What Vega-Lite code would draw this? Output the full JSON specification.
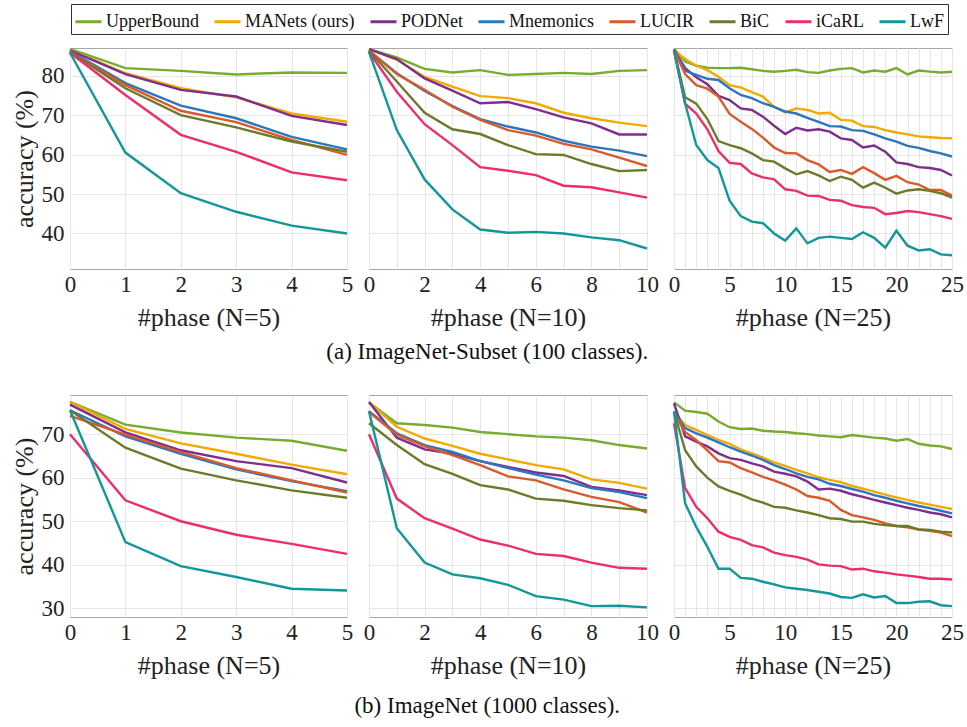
{
  "$schema": "https://vega.github.io/schema/vega-lite/v6.json",
  "padding": {"left": 10, "top": 3, "right": 2, "bottom": 4},
  "background": "white",
  "datasets": {
    "acc": [
      {"p":"a5","m":"UpperBound","x":0,"y":86.8},{"p":"a5","m":"UpperBound","x":1,"y":81.9},{"p":"a5","m":"UpperBound","x":2,"y":81.2},{"p":"a5","m":"UpperBound","x":3,"y":80.3},{"p":"a5","m":"UpperBound","x":4,"y":80.8},{"p":"a5","m":"UpperBound","x":5,"y":80.7},
      {"p":"a5","m":"MANets (ours)","x":0,"y":86.6},{"p":"a5","m":"MANets (ours)","x":1,"y":80.6},{"p":"a5","m":"MANets (ours)","x":2,"y":76.8},{"p":"a5","m":"MANets (ours)","x":3,"y":74.5},{"p":"a5","m":"MANets (ours)","x":4,"y":70.4},{"p":"a5","m":"MANets (ours)","x":5,"y":68.3},
      {"p":"a5","m":"PODNet","x":0,"y":86.4},{"p":"a5","m":"PODNet","x":1,"y":80.4},{"p":"a5","m":"PODNet","x":2,"y":76.4},{"p":"a5","m":"PODNet","x":3,"y":74.7},{"p":"a5","m":"PODNet","x":4,"y":69.8},{"p":"a5","m":"PODNet","x":5,"y":67.5},
      {"p":"a5","m":"Mnemonics","x":0,"y":86.2},{"p":"a5","m":"Mnemonics","x":1,"y":78.1},{"p":"a5","m":"Mnemonics","x":2,"y":72.4},{"p":"a5","m":"Mnemonics","x":3,"y":69.2},{"p":"a5","m":"Mnemonics","x":4,"y":64.5},{"p":"a5","m":"Mnemonics","x":5,"y":61.3},
      {"p":"a5","m":"LUCIR","x":0,"y":86.0},{"p":"a5","m":"LUCIR","x":1,"y":77.6},{"p":"a5","m":"LUCIR","x":2,"y":71.1},{"p":"a5","m":"LUCIR","x":3,"y":68.2},{"p":"a5","m":"LUCIR","x":4,"y":63.7},{"p":"a5","m":"LUCIR","x":5,"y":59.9},
      {"p":"a5","m":"BiC","x":0,"y":86.0},{"p":"a5","m":"BiC","x":1,"y":76.8},{"p":"a5","m":"BiC","x":2,"y":70.0},{"p":"a5","m":"BiC","x":3,"y":66.9},{"p":"a5","m":"BiC","x":4,"y":63.3},{"p":"a5","m":"BiC","x":5,"y":60.7},
      {"p":"a5","m":"iCaRL","x":0,"y":85.8},{"p":"a5","m":"iCaRL","x":1,"y":75.1},{"p":"a5","m":"iCaRL","x":2,"y":65.0},{"p":"a5","m":"iCaRL","x":3,"y":60.7},{"p":"a5","m":"iCaRL","x":4,"y":55.5},{"p":"a5","m":"iCaRL","x":5,"y":53.5},
      {"p":"a5","m":"LwF","x":0,"y":85.8},{"p":"a5","m":"LwF","x":1,"y":60.5},{"p":"a5","m":"LwF","x":2,"y":50.2},{"p":"a5","m":"LwF","x":3,"y":45.5},{"p":"a5","m":"LwF","x":4,"y":42.0},{"p":"a5","m":"LwF","x":5,"y":40.0},

      {"p":"a10","m":"UpperBound","x":0,"y":86.7},{"p":"a10","m":"UpperBound","x":1,"y":84.6},{"p":"a10","m":"UpperBound","x":2,"y":81.7},{"p":"a10","m":"UpperBound","x":3,"y":80.8},{"p":"a10","m":"UpperBound","x":4,"y":81.4},{"p":"a10","m":"UpperBound","x":5,"y":80.2},{"p":"a10","m":"UpperBound","x":6,"y":80.4},{"p":"a10","m":"UpperBound","x":7,"y":80.7},{"p":"a10","m":"UpperBound","x":8,"y":80.4},{"p":"a10","m":"UpperBound","x":9,"y":81.2},{"p":"a10","m":"UpperBound","x":10,"y":81.4},
      {"p":"a10","m":"MANets (ours)","x":0,"y":86.7},{"p":"a10","m":"MANets (ours)","x":1,"y":84.0},{"p":"a10","m":"MANets (ours)","x":2,"y":79.7},{"p":"a10","m":"MANets (ours)","x":3,"y":77.2},{"p":"a10","m":"MANets (ours)","x":4,"y":74.8},{"p":"a10","m":"MANets (ours)","x":5,"y":74.3},{"p":"a10","m":"MANets (ours)","x":6,"y":73.0},{"p":"a10","m":"MANets (ours)","x":7,"y":70.6},{"p":"a10","m":"MANets (ours)","x":8,"y":69.2},{"p":"a10","m":"MANets (ours)","x":9,"y":68.1},{"p":"a10","m":"MANets (ours)","x":10,"y":67.2},
      {"p":"a10","m":"PODNet","x":0,"y":86.7},{"p":"a10","m":"PODNet","x":1,"y":84.2},{"p":"a10","m":"PODNet","x":2,"y":79.3},{"p":"a10","m":"PODNet","x":3,"y":76.2},{"p":"a10","m":"PODNet","x":4,"y":73.0},{"p":"a10","m":"PODNet","x":5,"y":73.3},{"p":"a10","m":"PODNet","x":6,"y":71.5},{"p":"a10","m":"PODNet","x":7,"y":69.4},{"p":"a10","m":"PODNet","x":8,"y":67.9},{"p":"a10","m":"PODNet","x":9,"y":65.1},{"p":"a10","m":"PODNet","x":10,"y":65.1},
      {"p":"a10","m":"Mnemonics","x":0,"y":86.3},{"p":"a10","m":"Mnemonics","x":1,"y":80.6},{"p":"a10","m":"Mnemonics","x":2,"y":76.1},{"p":"a10","m":"Mnemonics","x":3,"y":72.3},{"p":"a10","m":"Mnemonics","x":4,"y":69.0},{"p":"a10","m":"Mnemonics","x":5,"y":67.1},{"p":"a10","m":"Mnemonics","x":6,"y":65.6},{"p":"a10","m":"Mnemonics","x":7,"y":63.5},{"p":"a10","m":"Mnemonics","x":8,"y":62.0},{"p":"a10","m":"Mnemonics","x":9,"y":61.0},{"p":"a10","m":"Mnemonics","x":10,"y":59.6},
      {"p":"a10","m":"LUCIR","x":0,"y":86.3},{"p":"a10","m":"LUCIR","x":1,"y":80.4},{"p":"a10","m":"LUCIR","x":2,"y":76.4},{"p":"a10","m":"LUCIR","x":3,"y":72.1},{"p":"a10","m":"LUCIR","x":4,"y":68.8},{"p":"a10","m":"LUCIR","x":5,"y":66.2},{"p":"a10","m":"LUCIR","x":6,"y":64.8},{"p":"a10","m":"LUCIR","x":7,"y":62.7},{"p":"a10","m":"LUCIR","x":8,"y":61.3},{"p":"a10","m":"LUCIR","x":9,"y":59.2},{"p":"a10","m":"LUCIR","x":10,"y":57.1},
      {"p":"a10","m":"BiC","x":0,"y":86.3},{"p":"a10","m":"BiC","x":1,"y":78.5},{"p":"a10","m":"BiC","x":2,"y":70.6},{"p":"a10","m":"BiC","x":3,"y":66.4},{"p":"a10","m":"BiC","x":4,"y":65.2},{"p":"a10","m":"BiC","x":5,"y":62.4},{"p":"a10","m":"BiC","x":6,"y":60.1},{"p":"a10","m":"BiC","x":7,"y":59.9},{"p":"a10","m":"BiC","x":8,"y":57.6},{"p":"a10","m":"BiC","x":9,"y":55.8},{"p":"a10","m":"BiC","x":10,"y":56.1},
      {"p":"a10","m":"iCaRL","x":0,"y":86.0},{"p":"a10","m":"iCaRL","x":1,"y":75.9},{"p":"a10","m":"iCaRL","x":2,"y":67.7},{"p":"a10","m":"iCaRL","x":3,"y":62.4},{"p":"a10","m":"iCaRL","x":4,"y":56.8},{"p":"a10","m":"iCaRL","x":5,"y":55.9},{"p":"a10","m":"iCaRL","x":6,"y":54.8},{"p":"a10","m":"iCaRL","x":7,"y":52.1},{"p":"a10","m":"iCaRL","x":8,"y":51.7},{"p":"a10","m":"iCaRL","x":9,"y":50.4},{"p":"a10","m":"iCaRL","x":10,"y":49.1},
      {"p":"a10","m":"LwF","x":0,"y":86.0},{"p":"a10","m":"LwF","x":1,"y":66.2},{"p":"a10","m":"LwF","x":2,"y":53.7},{"p":"a10","m":"LwF","x":3,"y":46.1},{"p":"a10","m":"LwF","x":4,"y":41.0},{"p":"a10","m":"LwF","x":5,"y":40.2},{"p":"a10","m":"LwF","x":6,"y":40.4},{"p":"a10","m":"LwF","x":7,"y":40.0},{"p":"a10","m":"LwF","x":8,"y":39.0},{"p":"a10","m":"LwF","x":9,"y":38.3},{"p":"a10","m":"LwF","x":10,"y":36.2},

      {"p":"a25","m":"UpperBound","x":0,"y":86.8},{"p":"a25","m":"UpperBound","x":1,"y":83.6},{"p":"a25","m":"UpperBound","x":2,"y":82.5},{"p":"a25","m":"UpperBound","x":3,"y":82.0},{"p":"a25","m":"UpperBound","x":4,"y":81.9},{"p":"a25","m":"UpperBound","x":5,"y":81.9},{"p":"a25","m":"UpperBound","x":6,"y":82.0},{"p":"a25","m":"UpperBound","x":7,"y":81.6},{"p":"a25","m":"UpperBound","x":8,"y":81.2},{"p":"a25","m":"UpperBound","x":9,"y":81.0},{"p":"a25","m":"UpperBound","x":10,"y":81.2},{"p":"a25","m":"UpperBound","x":11,"y":81.5},{"p":"a25","m":"UpperBound","x":12,"y":80.9},{"p":"a25","m":"UpperBound","x":13,"y":80.7},{"p":"a25","m":"UpperBound","x":14,"y":81.3},{"p":"a25","m":"UpperBound","x":15,"y":81.7},{"p":"a25","m":"UpperBound","x":16,"y":81.9},{"p":"a25","m":"UpperBound","x":17,"y":80.8},{"p":"a25","m":"UpperBound","x":18,"y":81.3},{"p":"a25","m":"UpperBound","x":19,"y":81.0},{"p":"a25","m":"UpperBound","x":20,"y":81.9},{"p":"a25","m":"UpperBound","x":21,"y":80.3},{"p":"a25","m":"UpperBound","x":22,"y":81.3},{"p":"a25","m":"UpperBound","x":23,"y":81.0},{"p":"a25","m":"UpperBound","x":24,"y":80.8},{"p":"a25","m":"UpperBound","x":25,"y":81.0},
      {"p":"a25","m":"MANets (ours)","x":0,"y":86.6},{"p":"a25","m":"MANets (ours)","x":1,"y":84.2},{"p":"a25","m":"MANets (ours)","x":2,"y":82.5},{"p":"a25","m":"MANets (ours)","x":3,"y":81.4},{"p":"a25","m":"MANets (ours)","x":4,"y":79.7},{"p":"a25","m":"MANets (ours)","x":5,"y":77.6},{"p":"a25","m":"MANets (ours)","x":6,"y":77.0},{"p":"a25","m":"MANets (ours)","x":7,"y":75.8},{"p":"a25","m":"MANets (ours)","x":8,"y":74.7},{"p":"a25","m":"MANets (ours)","x":9,"y":72.1},{"p":"a25","m":"MANets (ours)","x":10,"y":70.7},{"p":"a25","m":"MANets (ours)","x":11,"y":71.7},{"p":"a25","m":"MANets (ours)","x":12,"y":71.3},{"p":"a25","m":"MANets (ours)","x":13,"y":70.4},{"p":"a25","m":"MANets (ours)","x":14,"y":70.6},{"p":"a25","m":"MANets (ours)","x":15,"y":68.8},{"p":"a25","m":"MANets (ours)","x":16,"y":68.6},{"p":"a25","m":"MANets (ours)","x":17,"y":67.2},{"p":"a25","m":"MANets (ours)","x":18,"y":67.0},{"p":"a25","m":"MANets (ours)","x":19,"y":66.2},{"p":"a25","m":"MANets (ours)","x":20,"y":65.6},{"p":"a25","m":"MANets (ours)","x":21,"y":65.1},{"p":"a25","m":"MANets (ours)","x":22,"y":64.6},{"p":"a25","m":"MANets (ours)","x":23,"y":64.4},{"p":"a25","m":"MANets (ours)","x":24,"y":64.2},{"p":"a25","m":"MANets (ours)","x":25,"y":64.1},
      {"p":"a25","m":"PODNet","x":0,"y":86.6},{"p":"a25","m":"PODNet","x":1,"y":81.9},{"p":"a25","m":"PODNet","x":2,"y":79.6},{"p":"a25","m":"PODNet","x":3,"y":77.8},{"p":"a25","m":"PODNet","x":4,"y":74.9},{"p":"a25","m":"PODNet","x":5,"y":73.8},{"p":"a25","m":"PODNet","x":6,"y":71.7},{"p":"a25","m":"PODNet","x":7,"y":71.3},{"p":"a25","m":"PODNet","x":8,"y":69.6},{"p":"a25","m":"PODNet","x":9,"y":67.3},{"p":"a25","m":"PODNet","x":10,"y":65.2},{"p":"a25","m":"PODNet","x":11,"y":66.8},{"p":"a25","m":"PODNet","x":12,"y":66.1},{"p":"a25","m":"PODNet","x":13,"y":66.4},{"p":"a25","m":"PODNet","x":14,"y":65.8},{"p":"a25","m":"PODNet","x":15,"y":64.1},{"p":"a25","m":"PODNet","x":16,"y":63.7},{"p":"a25","m":"PODNet","x":17,"y":61.8},{"p":"a25","m":"PODNet","x":18,"y":62.3},{"p":"a25","m":"PODNet","x":19,"y":60.7},{"p":"a25","m":"PODNet","x":20,"y":58.0},{"p":"a25","m":"PODNet","x":21,"y":57.6},{"p":"a25","m":"PODNet","x":22,"y":56.8},{"p":"a25","m":"PODNet","x":23,"y":56.6},{"p":"a25","m":"PODNet","x":24,"y":56.1},{"p":"a25","m":"PODNet","x":25,"y":54.7},
      {"p":"a25","m":"Mnemonics","x":0,"y":86.6},{"p":"a25","m":"Mnemonics","x":1,"y":81.2},{"p":"a25","m":"Mnemonics","x":2,"y":80.2},{"p":"a25","m":"Mnemonics","x":3,"y":79.2},{"p":"a25","m":"Mnemonics","x":4,"y":78.9},{"p":"a25","m":"Mnemonics","x":5,"y":76.8},{"p":"a25","m":"Mnemonics","x":6,"y":75.1},{"p":"a25","m":"Mnemonics","x":7,"y":74.3},{"p":"a25","m":"Mnemonics","x":8,"y":73.0},{"p":"a25","m":"Mnemonics","x":9,"y":72.1},{"p":"a25","m":"Mnemonics","x":10,"y":70.9},{"p":"a25","m":"Mnemonics","x":11,"y":70.4},{"p":"a25","m":"Mnemonics","x":12,"y":69.3},{"p":"a25","m":"Mnemonics","x":13,"y":68.3},{"p":"a25","m":"Mnemonics","x":14,"y":67.2},{"p":"a25","m":"Mnemonics","x":15,"y":67.1},{"p":"a25","m":"Mnemonics","x":16,"y":66.2},{"p":"a25","m":"Mnemonics","x":17,"y":66.0},{"p":"a25","m":"Mnemonics","x":18,"y":65.1},{"p":"a25","m":"Mnemonics","x":19,"y":64.1},{"p":"a25","m":"Mnemonics","x":20,"y":63.3},{"p":"a25","m":"Mnemonics","x":21,"y":62.2},{"p":"a25","m":"Mnemonics","x":22,"y":61.7},{"p":"a25","m":"Mnemonics","x":23,"y":60.9},{"p":"a25","m":"Mnemonics","x":24,"y":60.3},{"p":"a25","m":"Mnemonics","x":25,"y":59.5},
      {"p":"a25","m":"LUCIR","x":0,"y":86.5},{"p":"a25","m":"LUCIR","x":1,"y":80.4},{"p":"a25","m":"LUCIR","x":2,"y":77.6},{"p":"a25","m":"LUCIR","x":3,"y":76.7},{"p":"a25","m":"LUCIR","x":4,"y":74.7},{"p":"a25","m":"LUCIR","x":5,"y":70.3},{"p":"a25","m":"LUCIR","x":6,"y":68.3},{"p":"a25","m":"LUCIR","x":7,"y":66.5},{"p":"a25","m":"LUCIR","x":8,"y":64.3},{"p":"a25","m":"LUCIR","x":9,"y":61.8},{"p":"a25","m":"LUCIR","x":10,"y":60.4},{"p":"a25","m":"LUCIR","x":11,"y":60.3},{"p":"a25","m":"LUCIR","x":12,"y":58.6},{"p":"a25","m":"LUCIR","x":13,"y":57.5},{"p":"a25","m":"LUCIR","x":14,"y":55.6},{"p":"a25","m":"LUCIR","x":15,"y":56.1},{"p":"a25","m":"LUCIR","x":16,"y":55.1},{"p":"a25","m":"LUCIR","x":17,"y":56.8},{"p":"a25","m":"LUCIR","x":18,"y":55.3},{"p":"a25","m":"LUCIR","x":19,"y":53.6},{"p":"a25","m":"LUCIR","x":20,"y":54.6},{"p":"a25","m":"LUCIR","x":21,"y":53.0},{"p":"a25","m":"LUCIR","x":22,"y":52.4},{"p":"a25","m":"LUCIR","x":23,"y":51.0},{"p":"a25","m":"LUCIR","x":24,"y":51.0},{"p":"a25","m":"LUCIR","x":25,"y":49.6},
      {"p":"a25","m":"BiC","x":0,"y":86.5},{"p":"a25","m":"BiC","x":1,"y":74.5},{"p":"a25","m":"BiC","x":2,"y":72.9},{"p":"a25","m":"BiC","x":3,"y":69.0},{"p":"a25","m":"BiC","x":4,"y":63.4},{"p":"a25","m":"BiC","x":5,"y":62.4},{"p":"a25","m":"BiC","x":6,"y":61.6},{"p":"a25","m":"BiC","x":7,"y":60.3},{"p":"a25","m":"BiC","x":8,"y":58.6},{"p":"a25","m":"BiC","x":9,"y":58.2},{"p":"a25","m":"BiC","x":10,"y":56.5},{"p":"a25","m":"BiC","x":11,"y":55.0},{"p":"a25","m":"BiC","x":12,"y":55.8},{"p":"a25","m":"BiC","x":13,"y":54.7},{"p":"a25","m":"BiC","x":14,"y":53.3},{"p":"a25","m":"BiC","x":15,"y":54.4},{"p":"a25","m":"BiC","x":16,"y":53.6},{"p":"a25","m":"BiC","x":17,"y":51.6},{"p":"a25","m":"BiC","x":18,"y":52.9},{"p":"a25","m":"BiC","x":19,"y":51.6},{"p":"a25","m":"BiC","x":20,"y":50.1},{"p":"a25","m":"BiC","x":21,"y":50.9},{"p":"a25","m":"BiC","x":22,"y":51.2},{"p":"a25","m":"BiC","x":23,"y":50.8},{"p":"a25","m":"BiC","x":24,"y":50.2},{"p":"a25","m":"BiC","x":25,"y":49.1},
      {"p":"a25","m":"iCaRL","x":0,"y":86.4},{"p":"a25","m":"iCaRL","x":1,"y":72.9},{"p":"a25","m":"iCaRL","x":2,"y":70.4},{"p":"a25","m":"iCaRL","x":3,"y":66.4},{"p":"a25","m":"iCaRL","x":4,"y":60.9},{"p":"a25","m":"iCaRL","x":5,"y":57.9},{"p":"a25","m":"iCaRL","x":6,"y":57.6},{"p":"a25","m":"iCaRL","x":7,"y":55.2},{"p":"a25","m":"iCaRL","x":8,"y":54.2},{"p":"a25","m":"iCaRL","x":9,"y":53.7},{"p":"a25","m":"iCaRL","x":10,"y":51.2},{"p":"a25","m":"iCaRL","x":11,"y":50.8},{"p":"a25","m":"iCaRL","x":12,"y":49.6},{"p":"a25","m":"iCaRL","x":13,"y":49.5},{"p":"a25","m":"iCaRL","x":14,"y":48.5},{"p":"a25","m":"iCaRL","x":15,"y":48.3},{"p":"a25","m":"iCaRL","x":16,"y":47.2},{"p":"a25","m":"iCaRL","x":17,"y":46.7},{"p":"a25","m":"iCaRL","x":18,"y":46.5},{"p":"a25","m":"iCaRL","x":19,"y":44.9},{"p":"a25","m":"iCaRL","x":20,"y":45.2},{"p":"a25","m":"iCaRL","x":21,"y":45.7},{"p":"a25","m":"iCaRL","x":22,"y":45.4},{"p":"a25","m":"iCaRL","x":23,"y":44.9},{"p":"a25","m":"iCaRL","x":24,"y":44.4},{"p":"a25","m":"iCaRL","x":25,"y":43.7},
      {"p":"a25","m":"LwF","x":0,"y":86.4},{"p":"a25","m":"LwF","x":1,"y":73.0},{"p":"a25","m":"LwF","x":2,"y":62.4},{"p":"a25","m":"LwF","x":3,"y":58.6},{"p":"a25","m":"LwF","x":4,"y":56.6},{"p":"a25","m":"LwF","x":5,"y":48.3},{"p":"a25","m":"LwF","x":6,"y":44.4},{"p":"a25","m":"LwF","x":7,"y":43.0},{"p":"a25","m":"LwF","x":8,"y":42.6},{"p":"a25","m":"LwF","x":9,"y":40.0},{"p":"a25","m":"LwF","x":10,"y":38.2},{"p":"a25","m":"LwF","x":11,"y":41.3},{"p":"a25","m":"LwF","x":12,"y":37.5},{"p":"a25","m":"LwF","x":13,"y":38.9},{"p":"a25","m":"LwF","x":14,"y":39.2},{"p":"a25","m":"LwF","x":15,"y":38.9},{"p":"a25","m":"LwF","x":16,"y":38.6},{"p":"a25","m":"LwF","x":17,"y":40.3},{"p":"a25","m":"LwF","x":18,"y":38.9},{"p":"a25","m":"LwF","x":19,"y":36.4},{"p":"a25","m":"LwF","x":20,"y":40.7},{"p":"a25","m":"LwF","x":21,"y":36.9},{"p":"a25","m":"LwF","x":22,"y":35.7},{"p":"a25","m":"LwF","x":23,"y":36.0},{"p":"a25","m":"LwF","x":24,"y":34.7},{"p":"a25","m":"LwF","x":25,"y":34.5},

      {"p":"b5","m":"UpperBound","x":0,"y":77.4},{"p":"b5","m":"UpperBound","x":1,"y":72.2},{"p":"b5","m":"UpperBound","x":2,"y":70.4},{"p":"b5","m":"UpperBound","x":3,"y":69.2},{"p":"b5","m":"UpperBound","x":4,"y":68.5},{"p":"b5","m":"UpperBound","x":5,"y":66.2},
      {"p":"b5","m":"MANets (ours)","x":0,"y":77.4},{"p":"b5","m":"MANets (ours)","x":1,"y":71.2},{"p":"b5","m":"MANets (ours)","x":2,"y":67.9},{"p":"b5","m":"MANets (ours)","x":3,"y":65.5},{"p":"b5","m":"MANets (ours)","x":4,"y":63.0},{"p":"b5","m":"MANets (ours)","x":5,"y":60.8},
      {"p":"b5","m":"PODNet","x":0,"y":76.8},{"p":"b5","m":"PODNet","x":1,"y":70.4},{"p":"b5","m":"PODNet","x":2,"y":66.3},{"p":"b5","m":"PODNet","x":3,"y":63.8},{"p":"b5","m":"PODNet","x":4,"y":62.2},{"p":"b5","m":"PODNet","x":5,"y":58.9},
      {"p":"b5","m":"Mnemonics","x":0,"y":75.5},{"p":"b5","m":"Mnemonics","x":1,"y":69.5},{"p":"b5","m":"Mnemonics","x":2,"y":65.5},{"p":"b5","m":"Mnemonics","x":3,"y":61.9},{"p":"b5","m":"Mnemonics","x":4,"y":59.2},{"p":"b5","m":"Mnemonics","x":5,"y":56.9},
      {"p":"b5","m":"LUCIR","x":0,"y":74.2},{"p":"b5","m":"LUCIR","x":1,"y":69.9},{"p":"b5","m":"LUCIR","x":2,"y":65.9},{"p":"b5","m":"LUCIR","x":3,"y":62.2},{"p":"b5","m":"LUCIR","x":4,"y":59.4},{"p":"b5","m":"LUCIR","x":5,"y":56.6},
      {"p":"b5","m":"BiC","x":0,"y":75.5},{"p":"b5","m":"BiC","x":1,"y":66.9},{"p":"b5","m":"BiC","x":2,"y":62.1},{"p":"b5","m":"BiC","x":3,"y":59.4},{"p":"b5","m":"BiC","x":4,"y":57.1},{"p":"b5","m":"BiC","x":5,"y":55.4},
      {"p":"b5","m":"iCaRL","x":0,"y":70.0},{"p":"b5","m":"iCaRL","x":1,"y":54.8},{"p":"b5","m":"iCaRL","x":2,"y":50.0},{"p":"b5","m":"iCaRL","x":3,"y":46.9},{"p":"b5","m":"iCaRL","x":4,"y":44.8},{"p":"b5","m":"iCaRL","x":5,"y":42.5},
      {"p":"b5","m":"LwF","x":0,"y":75.5},{"p":"b5","m":"LwF","x":1,"y":45.2},{"p":"b5","m":"LwF","x":2,"y":39.7},{"p":"b5","m":"LwF","x":3,"y":37.2},{"p":"b5","m":"LwF","x":4,"y":34.5},{"p":"b5","m":"LwF","x":5,"y":34.1},

      {"p":"b10","m":"UpperBound","x":0,"y":77.3},{"p":"b10","m":"UpperBound","x":1,"y":72.5},{"p":"b10","m":"UpperBound","x":2,"y":72.1},{"p":"b10","m":"UpperBound","x":3,"y":71.5},{"p":"b10","m":"UpperBound","x":4,"y":70.5},{"p":"b10","m":"UpperBound","x":5,"y":70.0},{"p":"b10","m":"UpperBound","x":6,"y":69.5},{"p":"b10","m":"UpperBound","x":7,"y":69.2},{"p":"b10","m":"UpperBound","x":8,"y":68.6},{"p":"b10","m":"UpperBound","x":9,"y":67.5},{"p":"b10","m":"UpperBound","x":10,"y":66.7},
      {"p":"b10","m":"MANets (ours)","x":0,"y":77.3},{"p":"b10","m":"MANets (ours)","x":1,"y":71.7},{"p":"b10","m":"MANets (ours)","x":2,"y":69.0},{"p":"b10","m":"MANets (ours)","x":3,"y":67.3},{"p":"b10","m":"MANets (ours)","x":4,"y":65.5},{"p":"b10","m":"MANets (ours)","x":5,"y":64.2},{"p":"b10","m":"MANets (ours)","x":6,"y":62.9},{"p":"b10","m":"MANets (ours)","x":7,"y":61.9},{"p":"b10","m":"MANets (ours)","x":8,"y":59.6},{"p":"b10","m":"MANets (ours)","x":9,"y":58.8},{"p":"b10","m":"MANets (ours)","x":10,"y":57.5},
      {"p":"b10","m":"PODNet","x":0,"y":77.4},{"p":"b10","m":"PODNet","x":1,"y":69.2},{"p":"b10","m":"PODNet","x":2,"y":66.5},{"p":"b10","m":"PODNet","x":3,"y":65.5},{"p":"b10","m":"PODNet","x":4,"y":63.8},{"p":"b10","m":"PODNet","x":5,"y":62.5},{"p":"b10","m":"PODNet","x":6,"y":61.2},{"p":"b10","m":"PODNet","x":7,"y":60.4},{"p":"b10","m":"PODNet","x":8,"y":57.9},{"p":"b10","m":"PODNet","x":9,"y":57.1},{"p":"b10","m":"PODNet","x":10,"y":56.0},
      {"p":"b10","m":"Mnemonics","x":0,"y":75.3},{"p":"b10","m":"Mnemonics","x":1,"y":70.2},{"p":"b10","m":"Mnemonics","x":2,"y":67.5},{"p":"b10","m":"Mnemonics","x":3,"y":65.9},{"p":"b10","m":"Mnemonics","x":4,"y":63.8},{"p":"b10","m":"Mnemonics","x":5,"y":62.2},{"p":"b10","m":"Mnemonics","x":6,"y":60.7},{"p":"b10","m":"Mnemonics","x":7,"y":59.4},{"p":"b10","m":"Mnemonics","x":8,"y":57.6},{"p":"b10","m":"Mnemonics","x":9,"y":56.7},{"p":"b10","m":"Mnemonics","x":10,"y":55.3},
      {"p":"b10","m":"LUCIR","x":0,"y":75.1},{"p":"b10","m":"LUCIR","x":1,"y":69.9},{"p":"b10","m":"LUCIR","x":2,"y":67.2},{"p":"b10","m":"LUCIR","x":3,"y":65.2},{"p":"b10","m":"LUCIR","x":4,"y":62.9},{"p":"b10","m":"LUCIR","x":5,"y":60.3},{"p":"b10","m":"LUCIR","x":6,"y":59.4},{"p":"b10","m":"LUCIR","x":7,"y":57.3},{"p":"b10","m":"LUCIR","x":8,"y":55.6},{"p":"b10","m":"LUCIR","x":9,"y":54.4},{"p":"b10","m":"LUCIR","x":10,"y":52.0},
      {"p":"b10","m":"BiC","x":0,"y":72.5},{"p":"b10","m":"BiC","x":1,"y":67.5},{"p":"b10","m":"BiC","x":2,"y":63.1},{"p":"b10","m":"BiC","x":3,"y":60.9},{"p":"b10","m":"BiC","x":4,"y":58.3},{"p":"b10","m":"BiC","x":5,"y":57.3},{"p":"b10","m":"BiC","x":6,"y":55.2},{"p":"b10","m":"BiC","x":7,"y":54.7},{"p":"b10","m":"BiC","x":8,"y":53.7},{"p":"b10","m":"BiC","x":9,"y":53.0},{"p":"b10","m":"BiC","x":10,"y":52.5},
      {"p":"b10","m":"iCaRL","x":0,"y":70.0},{"p":"b10","m":"iCaRL","x":1,"y":55.2},{"p":"b10","m":"iCaRL","x":2,"y":50.7},{"p":"b10","m":"iCaRL","x":3,"y":48.3},{"p":"b10","m":"iCaRL","x":4,"y":45.8},{"p":"b10","m":"iCaRL","x":5,"y":44.4},{"p":"b10","m":"iCaRL","x":6,"y":42.5},{"p":"b10","m":"iCaRL","x":7,"y":42.0},{"p":"b10","m":"iCaRL","x":8,"y":40.5},{"p":"b10","m":"iCaRL","x":9,"y":39.3},{"p":"b10","m":"iCaRL","x":10,"y":39.1},
      {"p":"b10","m":"LwF","x":0,"y":75.3},{"p":"b10","m":"LwF","x":1,"y":48.4},{"p":"b10","m":"LwF","x":2,"y":40.5},{"p":"b10","m":"LwF","x":3,"y":37.8},{"p":"b10","m":"LwF","x":4,"y":36.9},{"p":"b10","m":"LwF","x":5,"y":35.4},{"p":"b10","m":"LwF","x":6,"y":32.8},{"p":"b10","m":"LwF","x":7,"y":32.0},{"p":"b10","m":"LwF","x":8,"y":30.5},{"p":"b10","m":"LwF","x":9,"y":30.6},{"p":"b10","m":"LwF","x":10,"y":30.2},

      {"p":"b25","m":"UpperBound","x":0,"y":77.3},{"p":"b25","m":"UpperBound","x":1,"y":75.4},{"p":"b25","m":"UpperBound","x":2,"y":75.1},{"p":"b25","m":"UpperBound","x":3,"y":74.7},{"p":"b25","m":"UpperBound","x":4,"y":72.9},{"p":"b25","m":"UpperBound","x":5,"y":71.6},{"p":"b25","m":"UpperBound","x":6,"y":71.2},{"p":"b25","m":"UpperBound","x":7,"y":71.3},{"p":"b25","m":"UpperBound","x":8,"y":70.8},{"p":"b25","m":"UpperBound","x":9,"y":70.6},{"p":"b25","m":"UpperBound","x":10,"y":70.5},{"p":"b25","m":"UpperBound","x":11,"y":70.2},{"p":"b25","m":"UpperBound","x":12,"y":70.0},{"p":"b25","m":"UpperBound","x":13,"y":69.7},{"p":"b25","m":"UpperBound","x":14,"y":69.5},{"p":"b25","m":"UpperBound","x":15,"y":69.3},{"p":"b25","m":"UpperBound","x":16,"y":69.8},{"p":"b25","m":"UpperBound","x":17,"y":69.5},{"p":"b25","m":"UpperBound","x":18,"y":69.2},{"p":"b25","m":"UpperBound","x":19,"y":69.0},{"p":"b25","m":"UpperBound","x":20,"y":68.5},{"p":"b25","m":"UpperBound","x":21,"y":68.9},{"p":"b25","m":"UpperBound","x":22,"y":67.8},{"p":"b25","m":"UpperBound","x":23,"y":67.4},{"p":"b25","m":"UpperBound","x":24,"y":67.2},{"p":"b25","m":"UpperBound","x":25,"y":66.6},
      {"p":"b25","m":"MANets (ours)","x":0,"y":75.2},{"p":"b25","m":"MANets (ours)","x":1,"y":72.1},{"p":"b25","m":"MANets (ours)","x":2,"y":71.0},{"p":"b25","m":"MANets (ours)","x":3,"y":69.8},{"p":"b25","m":"MANets (ours)","x":4,"y":68.7},{"p":"b25","m":"MANets (ours)","x":5,"y":67.8},{"p":"b25","m":"MANets (ours)","x":6,"y":66.5},{"p":"b25","m":"MANets (ours)","x":7,"y":65.6},{"p":"b25","m":"MANets (ours)","x":8,"y":64.6},{"p":"b25","m":"MANets (ours)","x":9,"y":63.5},{"p":"b25","m":"MANets (ours)","x":10,"y":62.7},{"p":"b25","m":"MANets (ours)","x":11,"y":61.8},{"p":"b25","m":"MANets (ours)","x":12,"y":61.0},{"p":"b25","m":"MANets (ours)","x":13,"y":60.1},{"p":"b25","m":"MANets (ours)","x":14,"y":59.5},{"p":"b25","m":"MANets (ours)","x":15,"y":59.0},{"p":"b25","m":"MANets (ours)","x":16,"y":58.1},{"p":"b25","m":"MANets (ours)","x":17,"y":57.5},{"p":"b25","m":"MANets (ours)","x":18,"y":56.8},{"p":"b25","m":"MANets (ours)","x":19,"y":56.1},{"p":"b25","m":"MANets (ours)","x":20,"y":55.5},{"p":"b25","m":"MANets (ours)","x":21,"y":54.9},{"p":"b25","m":"MANets (ours)","x":22,"y":54.3},{"p":"b25","m":"MANets (ours)","x":23,"y":53.8},{"p":"b25","m":"MANets (ours)","x":24,"y":53.3},{"p":"b25","m":"MANets (ours)","x":25,"y":52.8},
      {"p":"b25","m":"PODNet","x":0,"y":77.1},{"p":"b25","m":"PODNet","x":1,"y":69.5},{"p":"b25","m":"PODNet","x":2,"y":68.3},{"p":"b25","m":"PODNet","x":3,"y":67.2},{"p":"b25","m":"PODNet","x":4,"y":65.6},{"p":"b25","m":"PODNet","x":5,"y":64.5},{"p":"b25","m":"PODNet","x":6,"y":64.1},{"p":"b25","m":"PODNet","x":7,"y":63.3},{"p":"b25","m":"PODNet","x":8,"y":62.6},{"p":"b25","m":"PODNet","x":9,"y":61.4},{"p":"b25","m":"PODNet","x":10,"y":60.9},{"p":"b25","m":"PODNet","x":11,"y":60.3},{"p":"b25","m":"PODNet","x":12,"y":59.1},{"p":"b25","m":"PODNet","x":13,"y":57.3},{"p":"b25","m":"PODNet","x":14,"y":57.5},{"p":"b25","m":"PODNet","x":15,"y":57.0},{"p":"b25","m":"PODNet","x":16,"y":56.2},{"p":"b25","m":"PODNet","x":17,"y":55.6},{"p":"b25","m":"PODNet","x":18,"y":54.9},{"p":"b25","m":"PODNet","x":19,"y":54.3},{"p":"b25","m":"PODNet","x":20,"y":53.7},{"p":"b25","m":"PODNet","x":21,"y":53.1},{"p":"b25","m":"PODNet","x":22,"y":52.6},{"p":"b25","m":"PODNet","x":23,"y":52.0},{"p":"b25","m":"PODNet","x":24,"y":51.6},{"p":"b25","m":"PODNet","x":25,"y":50.9},
      {"p":"b25","m":"Mnemonics","x":0,"y":75.2},{"p":"b25","m":"Mnemonics","x":1,"y":71.4},{"p":"b25","m":"Mnemonics","x":2,"y":70.2},{"p":"b25","m":"Mnemonics","x":3,"y":69.2},{"p":"b25","m":"Mnemonics","x":4,"y":68.1},{"p":"b25","m":"Mnemonics","x":5,"y":67.0},{"p":"b25","m":"Mnemonics","x":6,"y":66.0},{"p":"b25","m":"Mnemonics","x":7,"y":65.1},{"p":"b25","m":"Mnemonics","x":8,"y":64.1},{"p":"b25","m":"Mnemonics","x":9,"y":62.9},{"p":"b25","m":"Mnemonics","x":10,"y":62.0},{"p":"b25","m":"Mnemonics","x":11,"y":61.0},{"p":"b25","m":"Mnemonics","x":12,"y":60.2},{"p":"b25","m":"Mnemonics","x":13,"y":59.6},{"p":"b25","m":"Mnemonics","x":14,"y":58.6},{"p":"b25","m":"Mnemonics","x":15,"y":58.1},{"p":"b25","m":"Mnemonics","x":16,"y":57.4},{"p":"b25","m":"Mnemonics","x":17,"y":56.8},{"p":"b25","m":"Mnemonics","x":18,"y":56.0},{"p":"b25","m":"Mnemonics","x":19,"y":55.4},{"p":"b25","m":"Mnemonics","x":20,"y":54.7},{"p":"b25","m":"Mnemonics","x":21,"y":54.1},{"p":"b25","m":"Mnemonics","x":22,"y":53.5},{"p":"b25","m":"Mnemonics","x":23,"y":53.0},{"p":"b25","m":"Mnemonics","x":24,"y":52.4},{"p":"b25","m":"Mnemonics","x":25,"y":51.8},
      {"p":"b25","m":"LUCIR","x":0,"y":74.7},{"p":"b25","m":"LUCIR","x":1,"y":70.5},{"p":"b25","m":"LUCIR","x":2,"y":68.6},{"p":"b25","m":"LUCIR","x":3,"y":66.3},{"p":"b25","m":"LUCIR","x":4,"y":63.8},{"p":"b25","m":"LUCIR","x":5,"y":63.5},{"p":"b25","m":"LUCIR","x":6,"y":62.2},{"p":"b25","m":"LUCIR","x":7,"y":61.2},{"p":"b25","m":"LUCIR","x":8,"y":60.2},{"p":"b25","m":"LUCIR","x":9,"y":59.4},{"p":"b25","m":"LUCIR","x":10,"y":58.4},{"p":"b25","m":"LUCIR","x":11,"y":57.3},{"p":"b25","m":"LUCIR","x":12,"y":55.8},{"p":"b25","m":"LUCIR","x":13,"y":55.4},{"p":"b25","m":"LUCIR","x":14,"y":54.7},{"p":"b25","m":"LUCIR","x":15,"y":52.6},{"p":"b25","m":"LUCIR","x":16,"y":51.4},{"p":"b25","m":"LUCIR","x":17,"y":50.9},{"p":"b25","m":"LUCIR","x":18,"y":50.3},{"p":"b25","m":"LUCIR","x":19,"y":49.5},{"p":"b25","m":"LUCIR","x":20,"y":48.9},{"p":"b25","m":"LUCIR","x":21,"y":48.6},{"p":"b25","m":"LUCIR","x":22,"y":48.1},{"p":"b25","m":"LUCIR","x":23,"y":47.8},{"p":"b25","m":"LUCIR","x":24,"y":47.4},{"p":"b25","m":"LUCIR","x":25,"y":46.6},
      {"p":"b25","m":"BiC","x":0,"y":75.2},{"p":"b25","m":"BiC","x":1,"y":66.3},{"p":"b25","m":"BiC","x":2,"y":62.6},{"p":"b25","m":"BiC","x":3,"y":60.0},{"p":"b25","m":"BiC","x":4,"y":58.0},{"p":"b25","m":"BiC","x":5,"y":57.0},{"p":"b25","m":"BiC","x":6,"y":56.1},{"p":"b25","m":"BiC","x":7,"y":55.0},{"p":"b25","m":"BiC","x":8,"y":54.3},{"p":"b25","m":"BiC","x":9,"y":53.3},{"p":"b25","m":"BiC","x":10,"y":53.1},{"p":"b25","m":"BiC","x":11,"y":52.5},{"p":"b25","m":"BiC","x":12,"y":52.0},{"p":"b25","m":"BiC","x":13,"y":51.4},{"p":"b25","m":"BiC","x":14,"y":50.7},{"p":"b25","m":"BiC","x":15,"y":50.5},{"p":"b25","m":"BiC","x":16,"y":49.9},{"p":"b25","m":"BiC","x":17,"y":49.9},{"p":"b25","m":"BiC","x":18,"y":49.4},{"p":"b25","m":"BiC","x":19,"y":49.1},{"p":"b25","m":"BiC","x":20,"y":48.9},{"p":"b25","m":"BiC","x":21,"y":48.9},{"p":"b25","m":"BiC","x":22,"y":48.1},{"p":"b25","m":"BiC","x":23,"y":48.0},{"p":"b25","m":"BiC","x":24,"y":47.6},{"p":"b25","m":"BiC","x":25,"y":47.4},
      {"p":"b25","m":"iCaRL","x":0,"y":72.5},{"p":"b25","m":"iCaRL","x":1,"y":57.6},{"p":"b25","m":"iCaRL","x":2,"y":53.3},{"p":"b25","m":"iCaRL","x":3,"y":50.7},{"p":"b25","m":"iCaRL","x":4,"y":47.6},{"p":"b25","m":"iCaRL","x":5,"y":46.4},{"p":"b25","m":"iCaRL","x":6,"y":45.7},{"p":"b25","m":"iCaRL","x":7,"y":44.5},{"p":"b25","m":"iCaRL","x":8,"y":44.0},{"p":"b25","m":"iCaRL","x":9,"y":42.8},{"p":"b25","m":"iCaRL","x":10,"y":42.2},{"p":"b25","m":"iCaRL","x":11,"y":41.8},{"p":"b25","m":"iCaRL","x":12,"y":41.2},{"p":"b25","m":"iCaRL","x":13,"y":40.1},{"p":"b25","m":"iCaRL","x":14,"y":39.8},{"p":"b25","m":"iCaRL","x":15,"y":39.7},{"p":"b25","m":"iCaRL","x":16,"y":38.9},{"p":"b25","m":"iCaRL","x":17,"y":39.1},{"p":"b25","m":"iCaRL","x":18,"y":38.5},{"p":"b25","m":"iCaRL","x":19,"y":38.2},{"p":"b25","m":"iCaRL","x":20,"y":37.8},{"p":"b25","m":"iCaRL","x":21,"y":37.5},{"p":"b25","m":"iCaRL","x":22,"y":37.2},{"p":"b25","m":"iCaRL","x":23,"y":36.8},{"p":"b25","m":"iCaRL","x":24,"y":36.8},{"p":"b25","m":"iCaRL","x":25,"y":36.6},
      {"p":"b25","m":"LwF","x":0,"y":75.2},{"p":"b25","m":"LwF","x":1,"y":54.1},{"p":"b25","m":"LwF","x":2,"y":48.7},{"p":"b25","m":"LwF","x":3,"y":44.1},{"p":"b25","m":"LwF","x":4,"y":39.1},{"p":"b25","m":"LwF","x":5,"y":39.1},{"p":"b25","m":"LwF","x":6,"y":37.0},{"p":"b25","m":"LwF","x":7,"y":36.8},{"p":"b25","m":"LwF","x":8,"y":36.1},{"p":"b25","m":"LwF","x":9,"y":35.5},{"p":"b25","m":"LwF","x":10,"y":34.8},{"p":"b25","m":"LwF","x":11,"y":34.5},{"p":"b25","m":"LwF","x":12,"y":34.2},{"p":"b25","m":"LwF","x":13,"y":33.8},{"p":"b25","m":"LwF","x":14,"y":33.4},{"p":"b25","m":"LwF","x":15,"y":32.6},{"p":"b25","m":"LwF","x":16,"y":32.4},{"p":"b25","m":"LwF","x":17,"y":33.2},{"p":"b25","m":"LwF","x":18,"y":32.5},{"p":"b25","m":"LwF","x":19,"y":32.8},{"p":"b25","m":"LwF","x":20,"y":31.2},{"p":"b25","m":"LwF","x":21,"y":31.2},{"p":"b25","m":"LwF","x":22,"y":31.5},{"p":"b25","m":"LwF","x":23,"y":31.6},{"p":"b25","m":"LwF","x":24,"y":30.7},{"p":"b25","m":"LwF","x":25,"y":30.5}
    ]
  },
  "data": {"name": "acc"},
  "spacing": 30,
  "vconcat": [
    {
      "title": {"text": "(a) ImageNet-Subset (100 classes).", "orient": "bottom", "anchor": "middle", "offset": 10},
      "spacing": 8,
      "hconcat": [
        {
          "width": 277, "height": 221,
          "transform": [{"filter": "datum.p == 'a5'"}],
          "mark": {"type": "line", "strokeWidth": 2.4},
          "encoding": {
            "x": {"field": "x", "type": "quantitative", "scale": {"domain": [0, 5], "nice": false}, "axis": {"values": [0,1,2,3,4,5], "title": "#phase (N=5)"}},
            "y": {"field": "y", "type": "quantitative", "scale": {"domain": [31, 87], "nice": false, "zero": false}, "axis": {"values": [40,50,60,70,80], "title": "accuracy (%)"}},
            "color": {"field": "m", "type": "nominal", "scale": {"domain": ["UpperBound", "MANets (ours)", "PODNet", "Mnemonics", "LUCIR", "BiC", "iCaRL", "LwF"], "range": ["#77ac30", "#f2a900", "#7e2f8e", "#2e75c0", "#d95a2b", "#6e7a2a", "#ef2d6c", "#14979a"]}}
          }
        },
        {
          "width": 278, "height": 221,
          "transform": [{"filter": "datum.p == 'a10'"}],
          "mark": {"type": "line", "strokeWidth": 2.4},
          "encoding": {
            "x": {"field": "x", "type": "quantitative", "scale": {"domain": [0, 10], "nice": false}, "axis": {"values": [0,1,2,3,4,5,6,7,8,9,10], "labelExpr": "datum.value % 2 == 0 ? datum.label : ''", "title": "#phase (N=10)"}},
            "y": {"field": "y", "type": "quantitative", "scale": {"domain": [31, 87], "nice": false, "zero": false}, "axis": {"values": [40,50,60,70,80], "labels": false, "title": null}},
            "color": {"field": "m", "type": "nominal", "scale": {"domain": ["UpperBound", "MANets (ours)", "PODNet", "Mnemonics", "LUCIR", "BiC", "iCaRL", "LwF"], "range": ["#77ac30", "#f2a900", "#7e2f8e", "#2e75c0", "#d95a2b", "#6e7a2a", "#ef2d6c", "#14979a"]}}
          }
        },
        {
          "width": 278, "height": 221,
          "transform": [{"filter": "datum.p == 'a25'"}],
          "mark": {"type": "line", "strokeWidth": 2.4},
          "encoding": {
            "x": {"field": "x", "type": "quantitative", "scale": {"domain": [0, 25], "nice": false}, "axis": {"values": [0,1,2,3,4,5,6,7,8,9,10,11,12,13,14,15,16,17,18,19,20,21,22,23,24,25], "labelExpr": "datum.value % 5 == 0 ? datum.label : ''", "title": "#phase (N=25)"}},
            "y": {"field": "y", "type": "quantitative", "scale": {"domain": [31, 87], "nice": false, "zero": false}, "axis": {"values": [40,50,60,70,80], "labels": false, "title": null}},
            "color": {"field": "m", "type": "nominal", "scale": {"domain": ["UpperBound", "MANets (ours)", "PODNet", "Mnemonics", "LUCIR", "BiC", "iCaRL", "LwF"], "range": ["#77ac30", "#f2a900", "#7e2f8e", "#2e75c0", "#d95a2b", "#6e7a2a", "#ef2d6c", "#14979a"]}}
          }
        }
      ]
    },
    {
      "title": {"text": "(b) ImageNet (1000 classes).", "orient": "bottom", "anchor": "middle", "offset": 16},
      "spacing": 8,
      "hconcat": [
        {
          "width": 277, "height": 222,
          "transform": [{"filter": "datum.p == 'b5'"}],
          "mark": {"type": "line", "strokeWidth": 2.4},
          "encoding": {
            "x": {"field": "x", "type": "quantitative", "scale": {"domain": [0, 5], "nice": false}, "axis": {"values": [0,1,2,3,4,5], "title": "#phase (N=5)"}},
            "y": {"field": "y", "type": "quantitative", "scale": {"domain": [28, 79], "nice": false, "zero": false}, "axis": {"values": [30,40,50,60,70], "title": "accuracy (%)"}},
            "color": {"field": "m", "type": "nominal", "scale": {"domain": ["UpperBound", "MANets (ours)", "PODNet", "Mnemonics", "LUCIR", "BiC", "iCaRL", "LwF"], "range": ["#77ac30", "#f2a900", "#7e2f8e", "#2e75c0", "#d95a2b", "#6e7a2a", "#ef2d6c", "#14979a"]}}
          }
        },
        {
          "width": 278, "height": 222,
          "transform": [{"filter": "datum.p == 'b10'"}],
          "mark": {"type": "line", "strokeWidth": 2.4},
          "encoding": {
            "x": {"field": "x", "type": "quantitative", "scale": {"domain": [0, 10], "nice": false}, "axis": {"values": [0,1,2,3,4,5,6,7,8,9,10], "labelExpr": "datum.value % 2 == 0 ? datum.label : ''", "title": "#phase (N=10)"}},
            "y": {"field": "y", "type": "quantitative", "scale": {"domain": [28, 79], "nice": false, "zero": false}, "axis": {"values": [30,40,50,60,70], "labels": false, "title": null}},
            "color": {"field": "m", "type": "nominal", "scale": {"domain": ["UpperBound", "MANets (ours)", "PODNet", "Mnemonics", "LUCIR", "BiC", "iCaRL", "LwF"], "range": ["#77ac30", "#f2a900", "#7e2f8e", "#2e75c0", "#d95a2b", "#6e7a2a", "#ef2d6c", "#14979a"]}}
          }
        },
        {
          "width": 278, "height": 222,
          "transform": [{"filter": "datum.p == 'b25'"}],
          "mark": {"type": "line", "strokeWidth": 2.4},
          "encoding": {
            "x": {"field": "x", "type": "quantitative", "scale": {"domain": [0, 25], "nice": false}, "axis": {"values": [0,1,2,3,4,5,6,7,8,9,10,11,12,13,14,15,16,17,18,19,20,21,22,23,24,25], "labelExpr": "datum.value % 5 == 0 ? datum.label : ''", "title": "#phase (N=25)"}},
            "y": {"field": "y", "type": "quantitative", "scale": {"domain": [28, 79], "nice": false, "zero": false}, "axis": {"values": [30,40,50,60,70], "labels": false, "title": null}},
            "color": {"field": "m", "type": "nominal", "scale": {"domain": ["UpperBound", "MANets (ours)", "PODNet", "Mnemonics", "LUCIR", "BiC", "iCaRL", "LwF"], "range": ["#77ac30", "#f2a900", "#7e2f8e", "#2e75c0", "#d95a2b", "#6e7a2a", "#ef2d6c", "#14979a"]}}
          }
        }
      ]
    }
  ],
  "resolve": {"scale": {"x": "independent", "y": "independent"}},
  "config": {
    "font": "Liberation Serif, Times New Roman, serif",
    "view": {"stroke": "#a6a6a6", "strokeWidth": 1},
    "title": {"font": "Liberation Serif, Times New Roman, serif", "fontSize": 23, "fontWeight": "normal", "color": "#111"},
    "axis": {"domain": false, "ticks": false, "grid": true, "gridColor": "#e6e6e6", "gridWidth": 1, "labelFont": "Liberation Serif, Times New Roman, serif", "labelFontSize": 23, "labelColor": "#222", "labelPadding": 4, "titleFont": "Liberation Serif, Times New Roman, serif", "titleFontSize": 26, "titleFontWeight": "normal", "titleColor": "#222"},
    "axisX": {"titlePadding": 8, "labelFlush": false, "labelOverlap": false},
    "axisY": {"titlePadding": 4, "labelPadding": 6},
    "legend": {"orient": "none", "direction": "horizontal", "legendX": 1, "legendY": -44, "title": null, "strokeColor": "#333", "padding": 3, "symbolType": "stroke", "symbolStrokeWidth": 3, "symbolSize": 676, "labelFontSize": 18, "labelFont": "Liberation Serif, Times New Roman, serif", "labelColor": "#111", "labelLimit": 0, "columnPadding": 9, "labelOffset": 3}
  }
}
